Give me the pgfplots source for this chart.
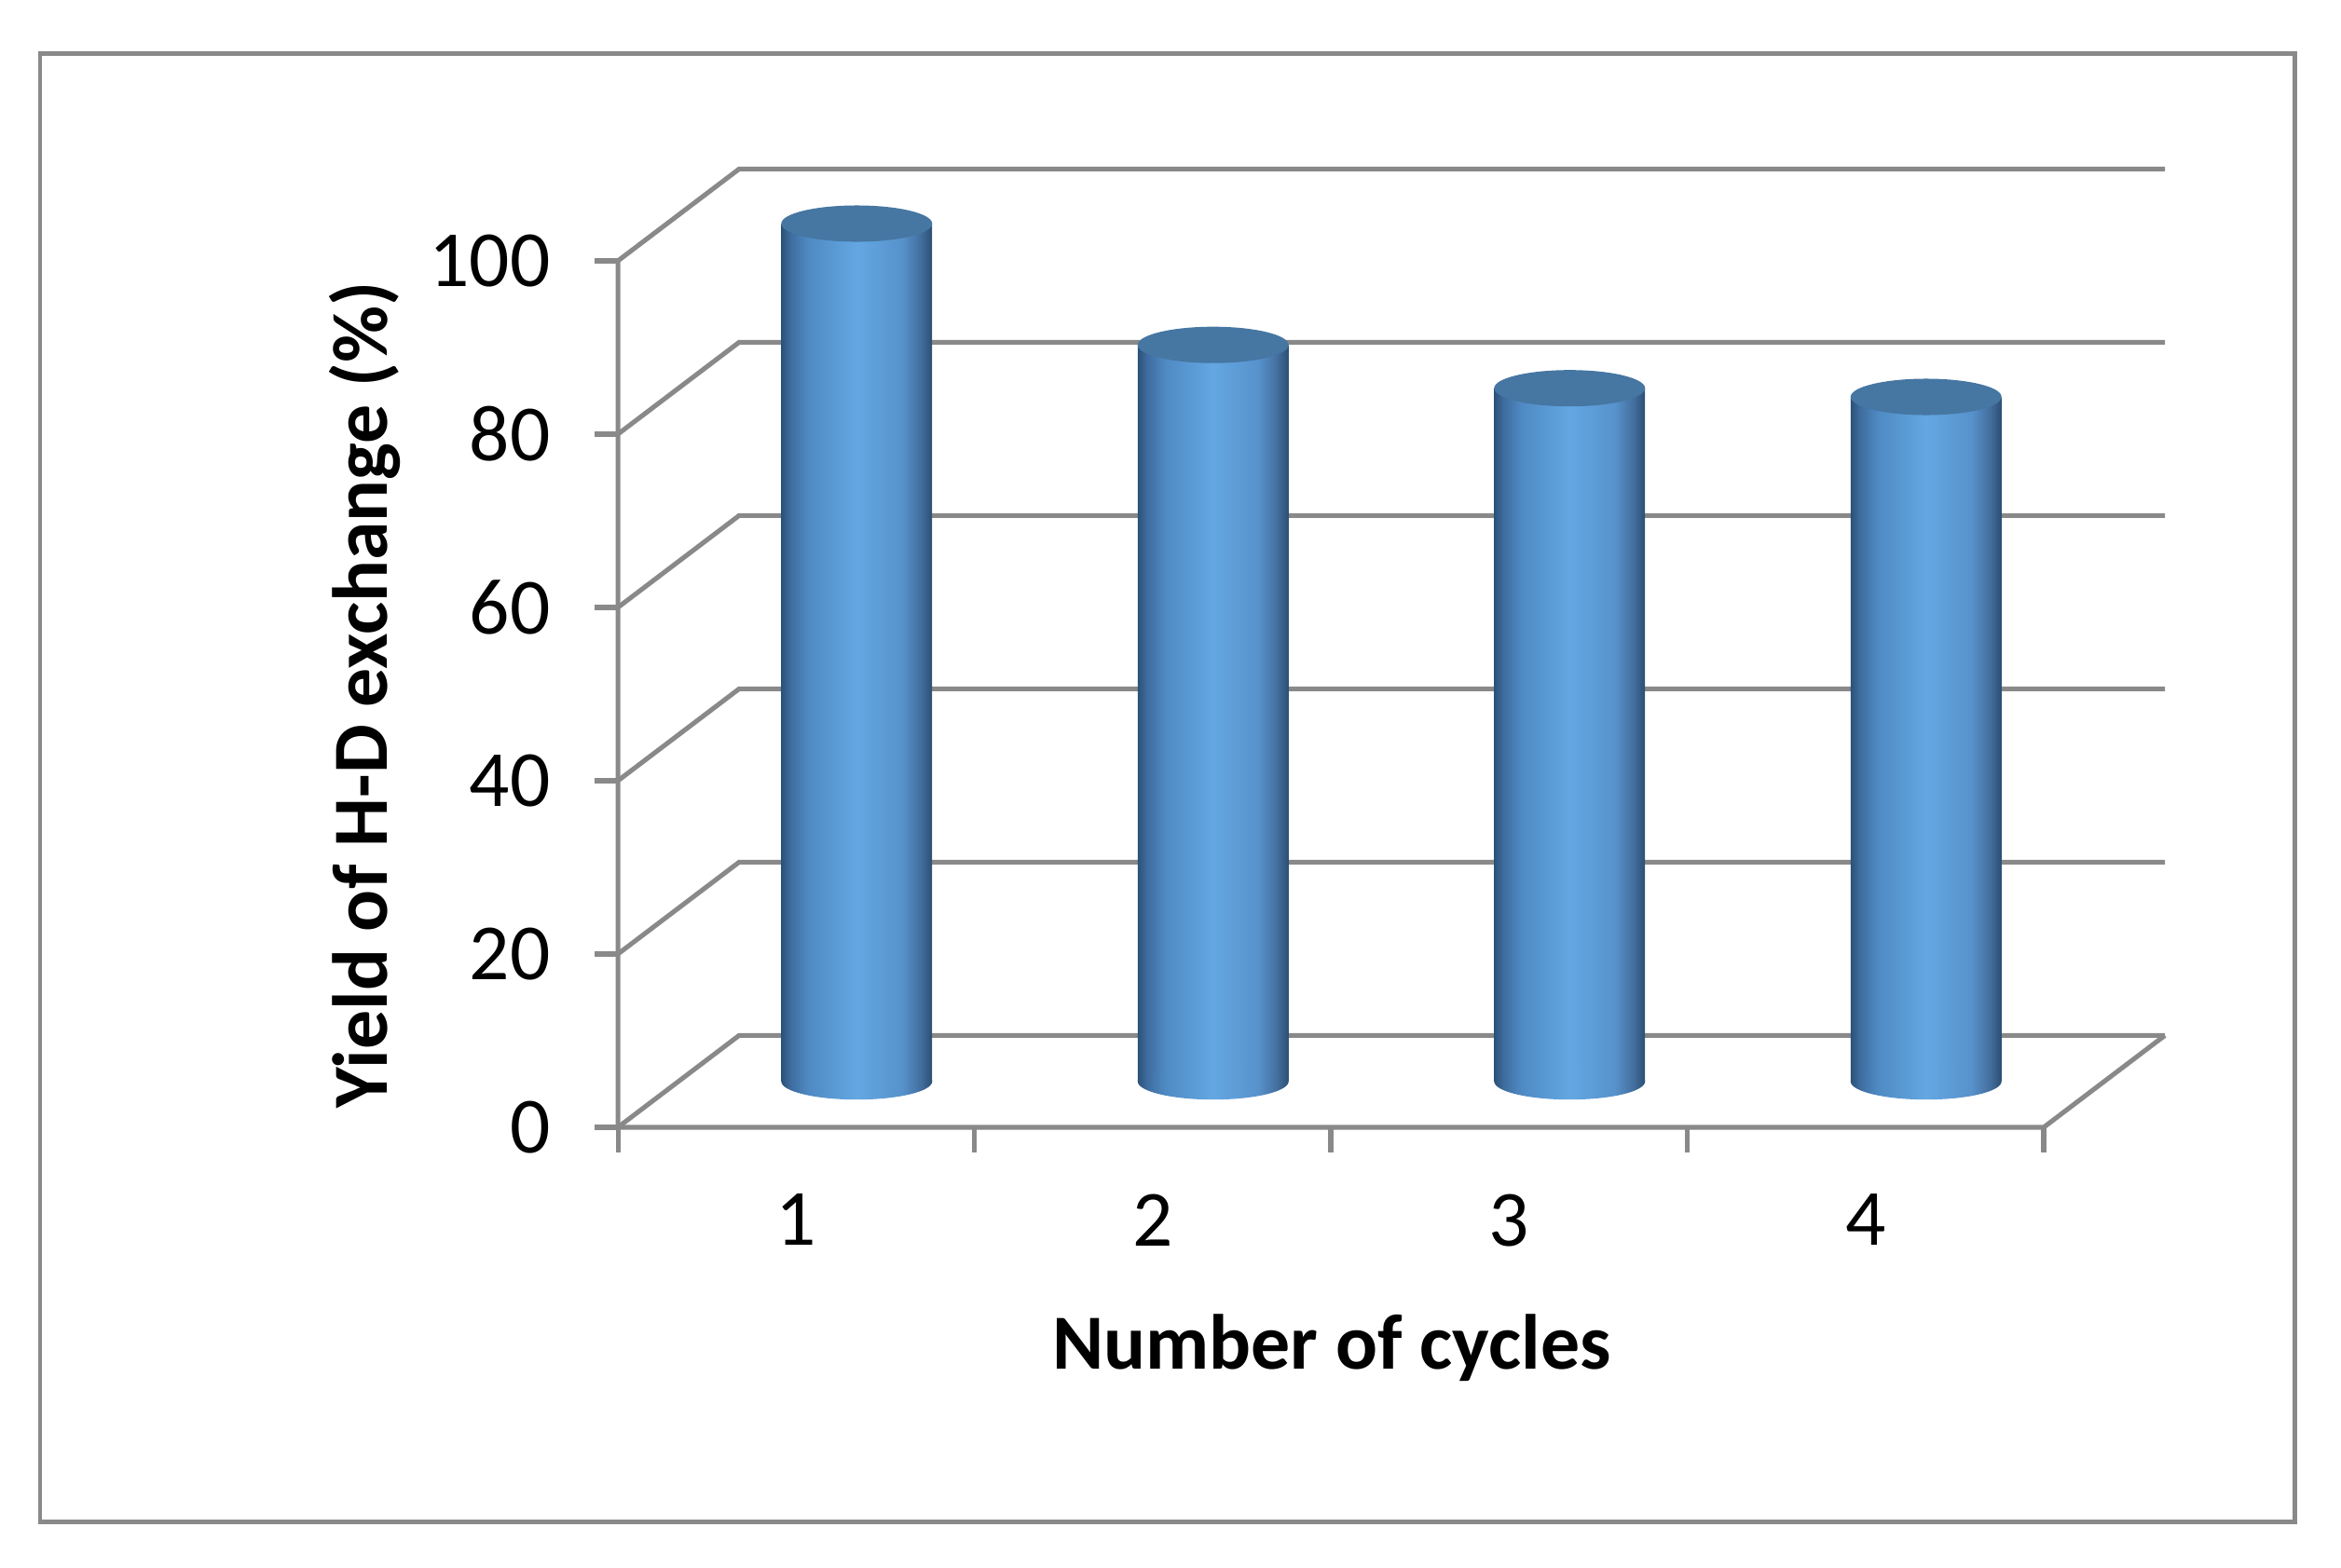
\documentclass[border=0pt]{standalone}
\usepackage{fontspec}
\setmainfont{Carlito}
\usepackage{pgfplots}
\pgfplotsset{compat=1.18}

\definecolor{gridgray}{HTML}{898989}
\definecolor{cA}{HTML}{2B5178}
\definecolor{cB}{HTML}{3E6C9E}
\definecolor{cC}{HTML}{4F8AC4}
\definecolor{cD}{HTML}{63A7E2}
\definecolor{cE}{HTML}{5792CC}
\definecolor{cF}{HTML}{446F9F}
\definecolor{cG}{HTML}{2B4F74}
\definecolor{captop}{HTML}{4676A2}

\pgfdeclarehorizontalshading{cyl}{100bp}{color(0bp)=(cA); color(25bp)=(cA); color(28bp)=(cB); color(34bp)=(cC); color(50bp)=(cD); color(65bp)=(cE); color(71bp)=(cF); color(75bp)=(cG); color(100bp)=(cG)}

\pgfdeclareplotmark{cylbot}{%
  \pgfpathellipse{\pgfpointorigin}{\pgfpoint{0.506cm}{0pt}}{\pgfpoint{0pt}{0.122cm}}%
  \pgfshadepath{cyl}{0}\pgfusepath{discard}}
\pgfdeclareplotmark{cyltop}{%
  \pgfpathellipse{\pgfpointorigin}{\pgfpoint{0.506cm}{0pt}}{\pgfpoint{0pt}{0.122cm}}%
  \pgfsetfillcolor{captop}\pgfusepath{fill}}

\pgfplotsset{
  gl/.style={gridgray, line width=0.9pt, mark=none},
  cylbar/.style={ybar, bar shift=0pt, bar width=0.423, draw=none, shade, shading=cyl},
}

\begin{document}
\begin{tikzpicture}
\path (-4.144,-2.956) rectangle (11.556,7.5625);
\draw[gridgray, line width=0.8pt] (-3.875,-2.647) rectangle (11.247,7.203);
\begin{axis}[
  at={(0,0)}, anchor=south west,
  scale only axis, width=10.375cm, height=6.425cm,
  xmin=-0.17, xmax=4.17, ymin=-5.3, ymax=105.24,
  clip=false,
  axis line style={draw=none},
  major tick length=0pt,
  tick style={draw=none},
  xtick={0.33,1.33,2.33,3.33}, xticklabels={1,2,3,4},
  ytick={-5.3,14.7,34.7,54.7,74.7,94.7}, yticklabels={0,20,40,60,80,100},
  xtick pos=bottom, ytick pos=left,
  ticklabel style={font=\fontsize{15.2}{18}\selectfont},
  xticklabel style={yshift=-0.323cm},
  yticklabel style={xshift=-0.33cm},
  xlabel={Number of cycles},
  ylabel={Yield of H-D exchange (\%)},
  every axis x label/.style={at={(rel axis cs:0.4614,-0.2305)}, anchor=center, font=\fontsize{14.9}{18}\selectfont\bfseries},
  every axis y label/.style={at={(rel axis cs:-0.1633,0.4514)}, anchor=center, rotate=90, font=\fontsize{14.9}{18}\selectfont\bfseries},
]
% walls and floor gridlines
\addplot[gl] coordinates {(-0.17,-5.3) (0.17,5.3) (4.17,5.3)};
\addplot[gl] coordinates {(-0.17,14.7) (0.17,25.3) (4.17,25.3)};
\addplot[gl] coordinates {(-0.17,34.7) (0.17,45.3) (4.17,45.3)};
\addplot[gl] coordinates {(-0.17,54.7) (0.17,65.3) (4.17,65.3)};
\addplot[gl] coordinates {(-0.17,74.7) (0.17,85.3) (4.17,85.3)};
\addplot[gl] coordinates {(-0.17,94.7) (0.17,105.3) (4.17,105.3)};
\addplot[gl] coordinates {(-0.17,94.7) (-0.17,-5.3) (3.83,-5.3) (4.17,5.3)};
% tick marks
\addplot[gl] coordinates {(-0.17,-5.3) (-0.17,-8.2)};
\addplot[gl] coordinates {(0.83,-5.3) (0.83,-8.2)};
\addplot[gl] coordinates {(1.83,-5.3) (1.83,-8.2)};
\addplot[gl] coordinates {(2.83,-5.3) (2.83,-8.2)};
\addplot[gl] coordinates {(3.83,-5.3) (3.83,-8.2)};
\addplot[gl] coordinates {(-0.17,-5.3) (-0.235,-5.3)};
\addplot[gl] coordinates {(-0.17,14.7) (-0.235,14.7)};
\addplot[gl] coordinates {(-0.17,34.7) (-0.235,34.7)};
\addplot[gl] coordinates {(-0.17,54.7) (-0.235,54.7)};
\addplot[gl] coordinates {(-0.17,74.7) (-0.235,74.7)};
\addplot[gl] coordinates {(-0.17,94.7) (-0.235,94.7)};
% cylinders
\addplot[only marks, mark=cylbot] coordinates {(0.5,0) (1.5,0) (2.5,0) (3.5,0)};
\addplot[cylbar] coordinates {(0.5,99)};
\addplot[cylbar] coordinates {(1.5,85)};
\addplot[cylbar] coordinates {(2.5,80)};
\addplot[cylbar] coordinates {(3.5,79)};
\addplot[only marks, mark=cyltop] coordinates {(0.5,99) (1.5,85) (2.5,80) (3.5,79)};
\end{axis}
\end{tikzpicture}
\end{document}
